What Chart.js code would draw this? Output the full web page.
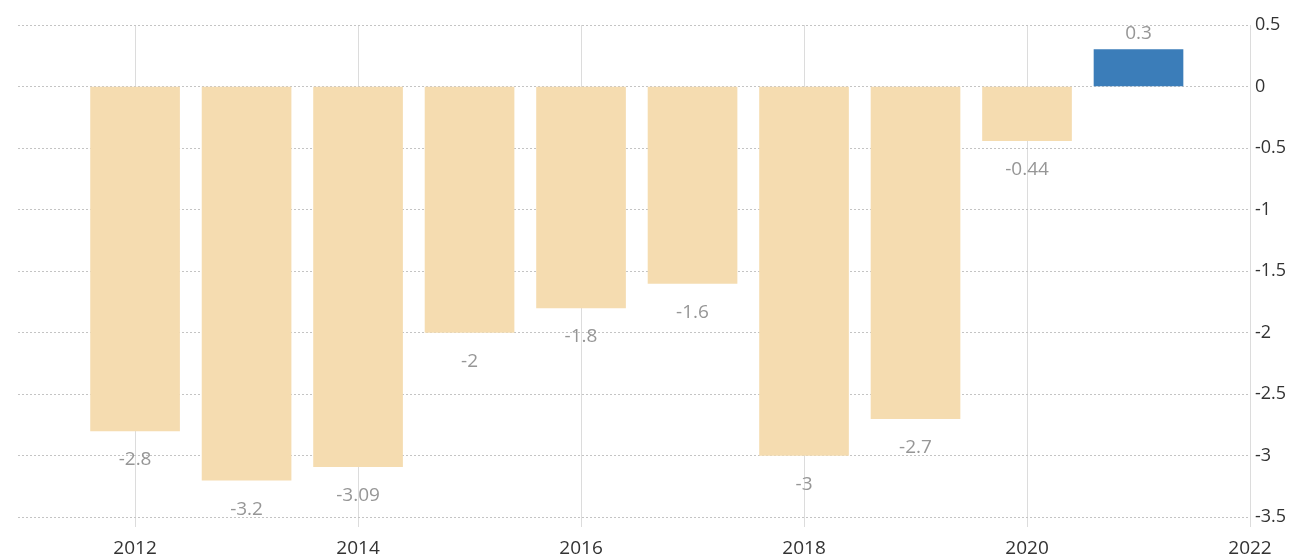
<!DOCTYPE html>
<html>
<head>
<meta charset="utf-8">
<script src="https://cdn.jsdelivr.net/npm/chart.js@4.4.0/dist/chart.umd.min.js"></script>
<style>
    html, body { margin: 0; padding: 0; background: #fff; }
    #wrap { width: 1296px; height: 559px; }
</style>
</head>
<body>
<div id="wrap"><canvas id="graphCanvas" width="1296" height="559"></canvas></div>
<script>
var years = [2012, 2013, 2014, 2015, 2016, 2017, 2018, 2019, 2020, 2021];
var values = [-2.8, -3.2, -3.09, -2, -1.8, -1.6, -3, -2.7, -0.44, 0.3];
var valueLabels = ["-2.8", "-3.2", "-3.09", "-2", "-1.8", "-1.6", "-3", "-2.7", "-0.44", "0.3"];
var yTicks = [0.5, 0, -0.5, -1, -1.5, -2, -2.5, -3, -3.5];

var FONT = "'Open Sans', 'DejaVu Sans Condensed', sans-serif";

// draw the value under (or over) each bar
var valueLabelPlugin = {
    id: "valueLabels",
    afterDatasetsDraw: function (chart) {
        var ctx = chart.ctx;
        var meta = chart.getDatasetMeta(0);
        ctx.save();
        ctx.font = "19px " + FONT;
        ctx.fillStyle = "#969696";
        ctx.textAlign = "center";
        ctx.textBaseline = "middle";
        meta.data.forEach(function (bar, i) {
            var y = values[i] < 0 ? bar.y + 29 : bar.y - 16;
            ctx.fillText(valueLabels[i], bar.x, y);
        });
        ctx.restore();
    }
};

var data = {
    datasets: [
        {
            data: years.map(function (yr, i) { return { x: yr, y: values[i] }; }),
            backgroundColor: values.map(function (v) { return v < 0 ? "#F5DCB0" : "#3B7DB9"; }),
            borderWidth: 0,
            barThickness: 89,
        },
    ],
};

var options = {
    responsive: false,
    animation: false,
    layout: { padding: { left: 18, top: 25, right: 0, bottom: 0 } },
    plugins: {
        legend: { display: false },
        title: { display: false },
        tooltip: { enabled: false },
    },
    scales: {
        x: {
            type: "linear",
            offset: false,
            min: 2010.95,
            max: 2022,
            afterBuildTicks: function (axis) {
                axis.ticks = [2012, 2014, 2016, 2018, 2020, 2022].map(function (v) { return { value: v }; });
            },
            afterFit: function (axis) { axis.height = 42; },
            border: { display: false },
            grid: {
                color: "#dcdcdc",
                lineWidth: 1,
                drawTicks: true,
                tickLength: 10,
                offset: false,
            },
            ticks: {
                color: "#333",
                font: { family: FONT, size: 19 },
                padding: 10,
                maxRotation: 0,
                autoSkip: false,
                callback: function (v) { return String(v); },
            },
        },
        y: {
            position: "right",
            min: -3.5,
            max: 0.5,
            afterBuildTicks: function (axis) {
                axis.ticks = yTicks.map(function (v) { return { value: v }; });
            },
            afterFit: function (axis) { axis.width = 46; },
            border: { display: false },
            grid: {
                color: "#c4c4c4",
                lineWidth: 1,
                drawTicks: false,
            },
            ticks: {
                color: "#333",
                font: { family: FONT, size: 18 },
                padding: 5,
                align: "center",
                crossAlign: "near",
                callback: function (v) { return String(v); },
            },
        },
    },
};

// dotted horizontal grid
options.scales.y.border.dash = [2, 2];
options.scales.y.grid.tickBorderDash = [2, 2];

var chart1 = new Chart(document.getElementById("graphCanvas"), {
    type: "bar",
    data: data,
    options: options,
    plugins: [valueLabelPlugin],
});
</script>
</body>
</html>
